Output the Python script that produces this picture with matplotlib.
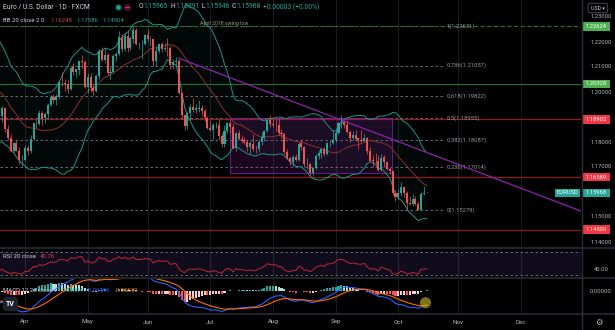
import numpy as np
import pandas as pd
import matplotlib
matplotlib.use("Agg")
import matplotlib.pyplot as plt
from matplotlib.lines import Line2D
from matplotlib.patches import Rectangle, Circle, FancyBboxPatch
from matplotlib.transforms import IdentityTransform

plt.rcParams['font.family'] = ['Roboto', 'DejaVu Sans']

# EUR/USD daily closes, trading days from 1 Feb to 15 Oct
closes = [
    1.2062, 1.2040, 1.2036, 1.1963, 1.2047, 1.2049, 1.2119, 1.2120, 1.2133, 1.2119,
    1.2130, 1.2104, 1.2037, 1.2092, 1.2120, 1.2156, 1.2150, 1.2167, 1.2175, 1.2075,
    1.2048, 1.2090, 1.2061, 1.1967, 1.1918, 1.1847, 1.1899, 1.1928, 1.1985, 1.1951,
    1.1929, 1.1900, 1.1980, 1.1915, 1.1904, 1.1937, 1.1852, 1.1815, 1.1763, 1.1795,
    1.1765, 1.1728, 1.1730,
    1.1777, 1.1763, 1.1814, 1.1874, 1.1871, 1.1915, 1.1898, 1.1911, 1.1947, 1.1980,
    1.1966, 1.1982, 1.2038, 1.2035, 1.2034, 1.2012, 1.2098, 1.2082, 1.2090, 1.2124,
    1.2122, 1.2020,
    1.2061, 1.2017, 1.2005, 1.2066, 1.2165, 1.2129, 1.2149, 1.2075, 1.2081, 1.2145,
    1.2153, 1.2222, 1.2174, 1.2226, 1.2178, 1.2214, 1.2248, 1.2193, 1.2193, 1.2193,
    1.2227,
    1.2212, 1.2213, 1.2126, 1.2166, 1.2191, 1.2172, 1.2178, 1.2176, 1.2107, 1.2121,
    1.2125, 1.1995, 1.1908, 1.1864, 1.1917, 1.1940, 1.1926, 1.1934, 1.1936, 1.1924,
    1.1895, 1.1858,
    1.1849, 1.1866, 1.1866, 1.1823, 1.1792, 1.1844, 1.1875, 1.1861, 1.1775, 1.1836,
    1.1813, 1.1807, 1.1800, 1.1780, 1.1794, 1.1772, 1.1771, 1.1801, 1.1818, 1.1843,
    1.1888, 1.1871,
    1.1869, 1.1866, 1.1835, 1.1833, 1.1762, 1.1735, 1.1719, 1.1739, 1.1729, 1.1794,
    1.1780, 1.1711, 1.1711, 1.1676, 1.1697, 1.1743, 1.1758, 1.1773, 1.1751, 1.1795,
    1.1797, 1.1808,
    1.1838, 1.1875, 1.1880, 1.1869, 1.1840, 1.1817, 1.1826, 1.1814, 1.1806, 1.1805,
    1.1817, 1.1766, 1.1726, 1.1725, 1.1723, 1.1689, 1.1738, 1.1719, 1.1694, 1.1683,
    1.1597, 1.1580,
    1.1595, 1.1621, 1.1597, 1.1555, 1.1554, 1.1572, 1.1552, 1.1530, 1.1594, 1.15965,
    1.15968,
]

# highs / lows of the bars on screen (19 Mar onwards)
first_shown = 34
highs = [
    1.1945, 1.1944, 1.1940, 1.1866, 1.1834, 1.1801, 1.1806, 1.1780, 1.1749,
    1.1790, 1.1787, 1.1826, 1.1877, 1.1888, 1.1927, 1.1925, 1.1920, 1.1955, 1.1990,
    1.1994, 1.1994, 1.2048, 1.2080, 1.2054, 1.2050, 1.2100, 1.2117, 1.2094, 1.2126,
    1.2150, 1.2127,
    1.2075, 1.2075, 1.2030, 1.2071, 1.2172, 1.2181, 1.2179, 1.2155, 1.2101, 1.2154,
    1.2161, 1.2245, 1.2234, 1.2235, 1.2244, 1.2226, 1.2263, 1.2258, 1.2202, 1.2210,
    1.2233,
    1.2254, 1.2226, 1.2217, 1.2184, 1.2193, 1.2200, 1.2195, 1.2218, 1.2184, 1.2132,
    1.2140, 1.2131, 1.1997, 1.1909, 1.1922, 1.1954, 1.1975, 1.1951, 1.1970, 1.1950,
    1.1933, 1.1903,
    1.1883, 1.1877, 1.1882, 1.1895, 1.1838, 1.1868, 1.1880, 1.1881, 1.1877, 1.1840,
    1.1850, 1.1828, 1.1821, 1.1810, 1.1805, 1.1832, 1.1790, 1.1812, 1.1840, 1.1849,
    1.1892, 1.1909,
    1.1892, 1.1894, 1.1898, 1.1851, 1.1835, 1.1772, 1.1741, 1.1747, 1.1752, 1.1799,
    1.1806, 1.1784, 1.1735, 1.1718, 1.1702, 1.1752, 1.1770, 1.1777, 1.1780, 1.1801,
    1.1810, 1.1846,
    1.1857, 1.1884, 1.1909, 1.1883, 1.1885, 1.1846, 1.1845, 1.1846, 1.1816, 1.1846,
    1.1833, 1.1819, 1.1782, 1.1749, 1.1756, 1.1747, 1.1752, 1.1748, 1.1721, 1.1695,
    1.1686, 1.1610,
    1.1611, 1.1640, 1.1623, 1.1604, 1.1584, 1.1594, 1.1584, 1.1564, 1.1600, 1.1624,
    1.15991,
]
lows = [
    1.1874, 1.1882, 1.1842, 1.1809, 1.1761, 1.1762, 1.1763, 1.1712, 1.1704,
    1.1723, 1.1748, 1.1755, 1.1807, 1.1856, 1.1869, 1.1868, 1.1877, 1.1893, 1.1943,
    1.1955, 1.1949, 1.1971, 1.2023, 1.2003, 1.1995, 1.2007, 1.2067, 1.2060, 1.2067,
    1.2097, 1.2016,
    1.1996, 1.1999, 1.1986, 1.2001, 1.2051, 1.2126, 1.2118, 1.2069, 1.2052, 1.2076,
    1.2124, 1.2147, 1.2162, 1.2165, 1.2161, 1.2170, 1.2196, 1.2187, 1.2172, 1.2133,
    1.2190,
    1.2199, 1.2183, 1.2105, 1.2104, 1.2155, 1.2159, 1.2163, 1.2144, 1.2093, 1.2092,
    1.2106, 1.1991, 1.1893, 1.1847, 1.1853, 1.1887, 1.1922, 1.1916, 1.1922, 1.1904,
    1.1885, 1.1853,
    1.1844, 1.1807, 1.1856, 1.1807, 1.1781, 1.1782, 1.1838, 1.1836, 1.1772, 1.1766,
    1.1806, 1.1797, 1.1794, 1.1764, 1.1752, 1.1765, 1.1755, 1.1760, 1.1790, 1.1803,
    1.1840, 1.1860,
    1.1859, 1.1844, 1.1830, 1.1817, 1.1753, 1.1733, 1.1707, 1.1705, 1.1724, 1.1726,
    1.1770, 1.1701, 1.1692, 1.1665, 1.1664, 1.1694, 1.1733, 1.1735, 1.1744, 1.1750,
    1.1780, 1.1793,
    1.1801, 1.1833, 1.1856, 1.1858, 1.1836, 1.1802, 1.1806, 1.1804, 1.1771, 1.1799,
    1.1801, 1.1751, 1.1724, 1.1700, 1.1711, 1.1685, 1.1683, 1.1702, 1.1687, 1.1672,
    1.1588, 1.1563,
    1.1573, 1.1585, 1.1580, 1.1529, 1.1550, 1.1544, 1.1550, 1.1528, 1.1530, 1.1587,
    1.15946,
]

# drawings on the chart
fib_ratios = ['1', '0.786', '0.618', '0.5', '0.382', '0.236', '0']
fib_values = [1.22631, 1.21057, 1.19822, 1.18955, 1.18087, 1.17014, 1.15279]
level_values = [1.22624, 1.20328, 1.18902, 1.16589, 1.14500]
level_kinds = ['support', 'support', 'resist', 'resist', 'resist']
trend_a = (97, 1.2135)
trend_b = (154, 1.1888)
box_x = (114.9, 171.9)
box_y = (1.1675, 1.1895)
right_ticks = [1.23, 1.22, 1.21, 1.20, 1.18, 1.17, 1.15, 1.14]

# legend readouts
ohlc_text = ['1.15965', '1.15991', '1.15946', '1.15968']
bb_text = ['1.16245', '1.17586', '1.14904']
rsi_text = '40.76'
macd_text = ['0.00034', '-0.00496', '-0.00530']

# ---------------------------------------------------------------
W, H = 615, 330
BG = '#000000'
TXT = '#d1d4dc'
AXT = '#b2b5be'
UP = '#26a69a'
DN = '#ef5350'
GRID = '#1b1b1f'
SEP = '#2a2e39'
XLIM = (34.23, 238.09)
ID = IdentityTransform()

dates = pd.bdate_range('2021-02-01', periods=len(closes))
axis_days = pd.bdate_range('2021-02-01', '2021-12-31')
month_pos, month_lab = [], []
for i, d in enumerate(axis_days):
    if i > 0 and d.month != axis_days[i - 1].month and XLIM[0] < i < XLIM[1]:
        month_pos.append(i)
        month_lab.append(d.strftime('%b'))

s = pd.Series(closes)
x = np.arange(len(s))
opens = s.shift(1)  # FX day opens at the prior close

# indicators
basis = s.rolling(20).mean()
dev = s.rolling(20).std(ddof=0)
upper, lower = basis + 2 * dev, basis - 2 * dev
delta = s.diff()
gain = delta.clip(lower=0).ewm(alpha=1 / 20, adjust=False).mean()
loss = (-delta.clip(upper=0)).ewm(alpha=1 / 20, adjust=False).mean()
rsi = 100 - 100 / (1 + gain / loss)
macd = s.ewm(span=12, adjust=False).mean() - s.ewm(span=26, adjust=False).mean()
signal = macd.ewm(span=9, adjust=False).mean()
hist = macd - signal

fig = plt.figure(figsize=(6.15, 3.3), dpi=100, facecolor=BG)


def add_pane(top, bottom):
    a = fig.add_axes([0, 1 - bottom / H, 581 / W, (bottom - top) / H])
    a.set_facecolor(BG)
    a.set_xlim(XLIM)
    a.set_xticks([])
    a.set_yticks([])
    for sp in a.spines.values():
        sp.set_visible(False)
    for p in month_pos:
        a.axvline(p, color=GRID, lw=0.8, zorder=0)
    return a


ax = add_pane(0, 247)
ax_rsi = add_pane(248.5, 277)
ax_macd = add_pane(278.5, 313.5)
ax.set_ylim(1.138, 1.2368)
ax_rsi.set_ylim(26.6, 75.5)
ax_macd.set_ylim(-0.00818, 0.00455)

# --- main pane
ax.fill_between(x, upper, lower, color=UP, alpha=0.05, lw=0, zorder=1)
ax.plot(x, upper, color='#1f9487', lw=0.7, zorder=2)
ax.plot(x, lower, color='#1f9487', lw=0.7, zorder=2)
ax.plot(x, basis, color='#8e2f2f', lw=0.7, zorder=2)

fib_end = 190.5
for lab, v in zip(fib_ratios, fib_values):
    ax.hlines(v, XLIM[0], fib_end, colors='#787b86', linestyles=(0, (3, 3)), lw=0.6, zorder=1)
    ax.text(fib_end + 0.4, v, f'{lab}({v:.5f})', color='#9598a1', fontsize=4.2,
            va='center', ha='left')

for v, k in zip(level_values, level_kinds):
    if k == 'support':
        ls = (0, (4, 2)) if v == level_values[0] else '-'
        ax.axhline(v, color='#23722e', lw=0.8, ls=ls, zorder=1)
    else:
        ax.axhline(v, color='#8e1c1c', lw=0.9, zorder=1)
ax.text(112.8, level_values[0] + 0.0011, 'April 2018 swing low', color='#8a968a',
        fontsize=3.8, ha='center', va='center')

slope = (trend_b[1] - trend_a[1]) / (trend_b[0] - trend_a[0])
ax.plot([trend_a[0], XLIM[1]], [trend_a[1], trend_a[1] + slope * (XLIM[1] - trend_a[0])],
        color='#8e24aa', lw=0.9, zorder=3)

ax.add_patch(Rectangle((box_x[0], box_y[0]), box_x[1] - box_x[0], box_y[1] - box_y[0],
                       fc='#9c27b0', alpha=0.17, ec='none', zorder=1))
ax.add_patch(Rectangle((box_x[0], box_y[0]), box_x[1] - box_x[0], box_y[1] - box_y[0],
                       fc='none', ec='#7b1fa2', lw=0.6, zorder=1))

o = opens.values[first_shown:]
c = s.values[first_shown:]
xs = x[first_shown:]
col = np.where(c >= o, UP, DN)
ax.vlines(xs, lows, highs, colors=col, lw=0.5, zorder=4)
ax.bar(xs, np.maximum(np.abs(c - o), 0.00008), bottom=np.minimum(o, c), width=0.72,
       color=col, lw=0, zorder=5)

# --- RSI pane
ax_rsi.axhspan(30, 70, color='#7e57c2', alpha=0.14, lw=0)
for v in (70, 30):
    ax_rsi.axhline(v, color='#787b86', lw=0.6, ls=(0, (3, 3)))
ax_rsi.plot(x, rsi, color='#c0263f', lw=0.7)

# --- MACD pane
hc = []
for i, h in enumerate(hist):
    prev = hist.iloc[i - 1] if i > 0 else h
    if h >= 0:
        hc.append('#26a69a' if h >= prev else '#b2dfdb')
    else:
        hc.append('#ffcdd2' if h >= prev else '#ff5252')
ax_macd.bar(x, hist, width=0.72, color=hc, lw=0)
ax_macd.plot(x, macd, color='#2962ff', lw=0.8)
ax_macd.plot(x, signal, color='#ff6d00', lw=0.8)

# --- frame lines
for yy in (247.8, 277.8, 314):
    fig.add_artist(Line2D([0, W], [H - yy, H - yy], transform=ID, color=SEP, lw=1.1))
fig.add_artist(Line2D([581.5, 581.5], [0, H], transform=ID, color=SEP, lw=1.0))


def ypix(a, v):
    return a.transData.transform((XLIM[0], v))[1]


def ftext(xp, yd, txt, **kw):
    kw.setdefault('fontsize', 4.2)
    kw.setdefault('va', 'center')
    return fig.text(xp, yd, txt, transform=ID, **kw)


for v in right_ticks:
    ftext(601, ypix(ax, v), f'{v:.5f}', color=AXT, ha='center')
ftext(601, ypix(ax_rsi, 40), '40.00', color=AXT, ha='center')
ftext(601, ypix(ax_macd, 0), '0.00000', color=AXT, ha='center')


def badge(yd, txt, fc, x0=582, x1=609.5, tc='white'):
    fig.add_artist(Rectangle((x0, yd - 4.2), x1 - x0, 8.4, transform=ID, fc=fc, ec='none'))
    ftext((x0 + x1) / 2, yd, txt, color=tc, ha='center')


for v, k in zip(level_values, level_kinds):
    badge(ypix(ax, v), f'{v:.5f}', '#4caf50' if k == 'support' else '#f23645')
last_y = ypix(ax, closes[-1])
badge(last_y, f'{closes[-1]:.5f}', UP)
badge(last_y, 'EURUSD', UP, x0=555, x1=580)

# USD box
fig.add_artist(FancyBboxPatch((588, H - 12.7), 19.7, 9.4, transform=ID,
                              boxstyle='round,pad=0,rounding_size=2',
                              fc='none', ec='#50535e', lw=0.6))
ftext(597.8, H - 8, 'USD ▾', color=TXT, ha='center', fontsize=3.8)

# time axis
for p, lab in zip(month_pos, month_lab):
    xd = ax.transData.transform((p, 0))[0]
    ftext(xd, H - 322, lab, color=AXT, ha='center', fontsize=4.5)
ftext(599, H - 322, '⚙', color=AXT, ha='center', fontsize=6, family='DejaVu Sans')

# legends
renderer = fig.canvas.get_renderer()


def row(xp, yp, parts, size):
    for txt, colr, gap in parts:
        t = ftext(xp, H - yp, txt, color=colr, ha='left', fontsize=size)
        xp += t.get_window_extent(renderer).width + gap
    return xp


row(3, 7, [('Euro / U.S. Dollar · 1D · FXCM', TXT, 0)], 4.9)
fig.add_artist(Line2D([118], [H - 7], transform=ID, marker='o', ms=4.2, mfc='#0e3b37',
                      mec='#0e3b37'))
fig.add_artist(Line2D([118], [H - 7], transform=ID, marker='o', ms=2.0, mfc=UP, mec=UP))
fig.add_artist(Line2D([126.5], [H - 7], transform=ID, marker='o', ms=4.2, mfc='#4a1228',
                      mec='#4a1228'))
fig.add_artist(Line2D([126.5], [H - 7], transform=ID, marker='_', ms=2.2, mec='#e0407a',
                      mew=0.6))
row(139, 7, [('O', TXT, 0), (ohlc_text[0], UP, 2.5), ('H', TXT, 0), (ohlc_text[1], UP, 2.5),
             ('L', TXT, 0), (ohlc_text[2], UP, 2.5), ('C', TXT, 0), (ohlc_text[3], UP, 2.5),
             ('+0.00003 (+0.00%)', UP, 0)], 4.9)
row(3, 20, [('BB 20 close 2 0', TXT, 6), (bb_text[0], '#c0504d', 4), (bb_text[1], UP, 4),
            (bb_text[2], UP, 0)], 4.3)
row(3, 256, [('RSI 20 close', TXT, 4), (rsi_text, '#e0405a', 0)], 4.3)
row(3, 290, [('MACD 12 26 close 9', TXT, 4), (macd_text[0], UP, 4),
             (macd_text[1], '#2962ff', 4), (macd_text[2], '#ff6d00', 0)], 4.3)

# marker circle at the MACD cross and logo
fig.add_artist(Circle((425.5, H - 302.7), 5.5, transform=ID, fc='#b5a51c', ec='none',
                      alpha=0.7))
fig.add_artist(FancyBboxPatch((3, H - 311), 15, 14, transform=ID,
                              boxstyle='round,pad=0,rounding_size=3', fc='#1e222d', ec='none'))
ftext(10.5, H - 304, 'TV', color='white', ha='center', fontsize=5, fontweight='bold')

fig.savefig('out.png', dpi=100, facecolor=BG)
